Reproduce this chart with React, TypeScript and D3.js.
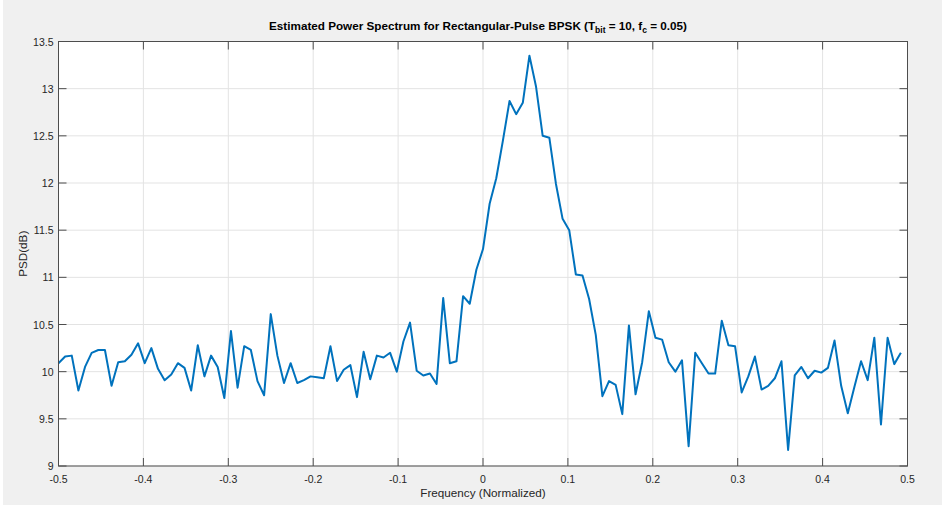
import React from "react";
import * as d3 from "d3";

// Normalized frequency bins (128-point FFT grid, -0.5 .. 0.5 - 1/128)
const N_BINS = 128;
const freqs: number[] = Array.from({ length: N_BINS }, (_, i) => -0.5 + i / N_BINS);

// Estimated PSD values in dB, one per bin
const psd: number[] = [
  10.09, 10.16, 10.17, 9.80, 10.05, 10.20, 10.23, 10.23, 9.85, 10.10,
  10.11, 10.18, 10.30, 10.09, 10.25, 10.03, 9.91, 9.97, 10.09, 10.04,
  9.80, 10.28, 9.95, 10.17, 10.05, 9.72, 10.43, 9.83, 10.27, 10.23,
  9.90, 9.75, 10.61, 10.17, 9.88, 10.09, 9.88, 9.91, 9.95, 9.94,
  9.93, 10.27, 9.90, 10.02, 10.07, 9.73, 10.21, 9.92, 10.17, 10.15,
  10.20, 10.00, 10.32, 10.52, 10.01, 9.96, 9.98, 9.87, 10.78, 10.09,
  10.11, 10.80, 10.72, 11.08, 11.30, 11.78, 12.05, 12.45, 12.87, 12.73,
  12.85, 13.35, 13.02, 12.50, 12.48, 11.99, 11.62, 11.50, 11.03, 11.02,
  10.77, 10.39, 9.74, 9.90, 9.86, 9.55, 10.49, 9.76, 10.10, 10.64,
  10.36, 10.34, 10.10, 10.00, 10.12, 9.21, 10.20, 10.09, 9.98, 9.98,
  10.54, 10.28, 10.27, 9.78, 9.95, 10.16, 9.81, 9.85, 9.93, 10.11,
  9.17, 9.96, 10.05, 9.93, 10.01, 9.99, 10.04, 10.33, 9.85, 9.56,
  9.84, 10.11, 9.91, 10.36, 9.44, 10.36, 10.08, 10.20,
];

const xTicks: number[] = [-0.5, -0.4, -0.3, -0.2, -0.1, 0, 0.1, 0.2, 0.3, 0.4, 0.5];
const yTicks: number[] = [9, 9.5, 10, 10.5, 11, 11.5, 12, 12.5, 13, 13.5];

const W = 942;
const H = 507;
const margin = { left: 58.5, right: 942 - 907.5, top: 41.5, bottom: 507 - 466 };
const innerW = W - margin.left - margin.right;
const innerH = H - margin.top - margin.bottom;

const FONT = "'Liberation Sans', Arial, Helvetica, sans-serif";
const AXIS_COLOR = "#4d4d4d";
const TEXT_COLOR = "#262626";
const GRID_COLOR = "#e3e3e3";
const LINE_COLOR = "#0072BD";
const TICK_LEN = 8;

export default function App() {
  const x = d3.scaleLinear().domain([-0.5, 0.5]).range([0, innerW]);
  const y = d3.scaleLinear().domain([9, 13.5]).range([innerH, 0]);

  const line = d3
    .line<number>()
    .x((_, i) => x(freqs[i]))
    .y((d) => y(d));

  const fmt = (v: number) => (v === 0 ? "0" : String(v));

  return (
    <svg
      width={W}
      height={H}
      style={{ position: "absolute", left: 0, top: 0, display: "block" }}
      fontFamily={FONT}
    >
      <rect x={0} y={0} width={W} height={H} fill="#ffffff" />
      <rect x={3} y={0} width={W - 3} height={H - 2} fill="#f0f0f0" />
      <g transform={`translate(${margin.left},${margin.top})`}>
        <rect x={0} y={0} width={innerW} height={innerH} fill="#ffffff" />

        {/* grid */}
        {xTicks.map((t) => (
          <line key={`gx${t}`} x1={x(t)} x2={x(t)} y1={0} y2={innerH} stroke={GRID_COLOR} strokeWidth={1} />
        ))}
        {yTicks.map((t) => (
          <line key={`gy${t}`} x1={0} x2={innerW} y1={y(t)} y2={y(t)} stroke={GRID_COLOR} strokeWidth={1} />
        ))}

        {/* spectrum */}
        <path d={line(psd) || ""} fill="none" stroke={LINE_COLOR} strokeWidth={2} strokeLinejoin="round" />

        {/* box */}
        <rect x={0} y={0} width={innerW} height={innerH} fill="none" stroke={AXIS_COLOR} strokeWidth={1} />

        {/* ticks (inward, both sides) */}
        {xTicks.map((t) => (
          <g key={`tx${t}`}>
            <line x1={x(t)} x2={x(t)} y1={innerH} y2={innerH - TICK_LEN} stroke={AXIS_COLOR} />
            <line x1={x(t)} x2={x(t)} y1={0} y2={TICK_LEN} stroke={AXIS_COLOR} />
            <text
              x={x(t)}
              y={innerH + 17}
              textAnchor="middle"
              fontSize={10.5}
              fill={TEXT_COLOR}
            >
              {fmt(t)}
            </text>
          </g>
        ))}
        {yTicks.map((t) => (
          <g key={`ty${t}`}>
            <line x1={0} x2={TICK_LEN} y1={y(t)} y2={y(t)} stroke={AXIS_COLOR} />
            <line x1={innerW} x2={innerW - TICK_LEN} y1={y(t)} y2={y(t)} stroke={AXIS_COLOR} />
            <text x={-5} y={y(t) + 4} textAnchor="end" fontSize={10.5} fill={TEXT_COLOR}>
              {fmt(t)}
            </text>
          </g>
        ))}

        {/* axis labels */}
        <text
          x={innerW / 2}
          y={innerH + 31}
          textAnchor="middle"
          fontSize={11.7}
          fill={TEXT_COLOR}
        >
          Frequency (Normalized)
        </text>
        <text
          transform={`translate(${-32},${innerH / 2}) rotate(-90)`}
          textAnchor="middle"
          fontSize={11.7}
          fill={TEXT_COLOR}
        >
          PSD(dB)
        </text>

        {/* title */}
        <text
          x={innerW / 2 - 5}
          y={-12}
          textAnchor="middle"
          fontSize={11.7}
          fontWeight="bold"
          fill="#000000"
        >
          Estimated Power Spectrum for Rectangular-Pulse BPSK (T
          <tspan fontSize={8.5} dy={3}>bit</tspan>
          <tspan dy={-3}> = 10, f</tspan>
          <tspan fontSize={8.5} dy={3}>c</tspan>
          <tspan dy={-3}> = 0.05)</tspan>
        </text>
      </g>
    </svg>
  );
}
